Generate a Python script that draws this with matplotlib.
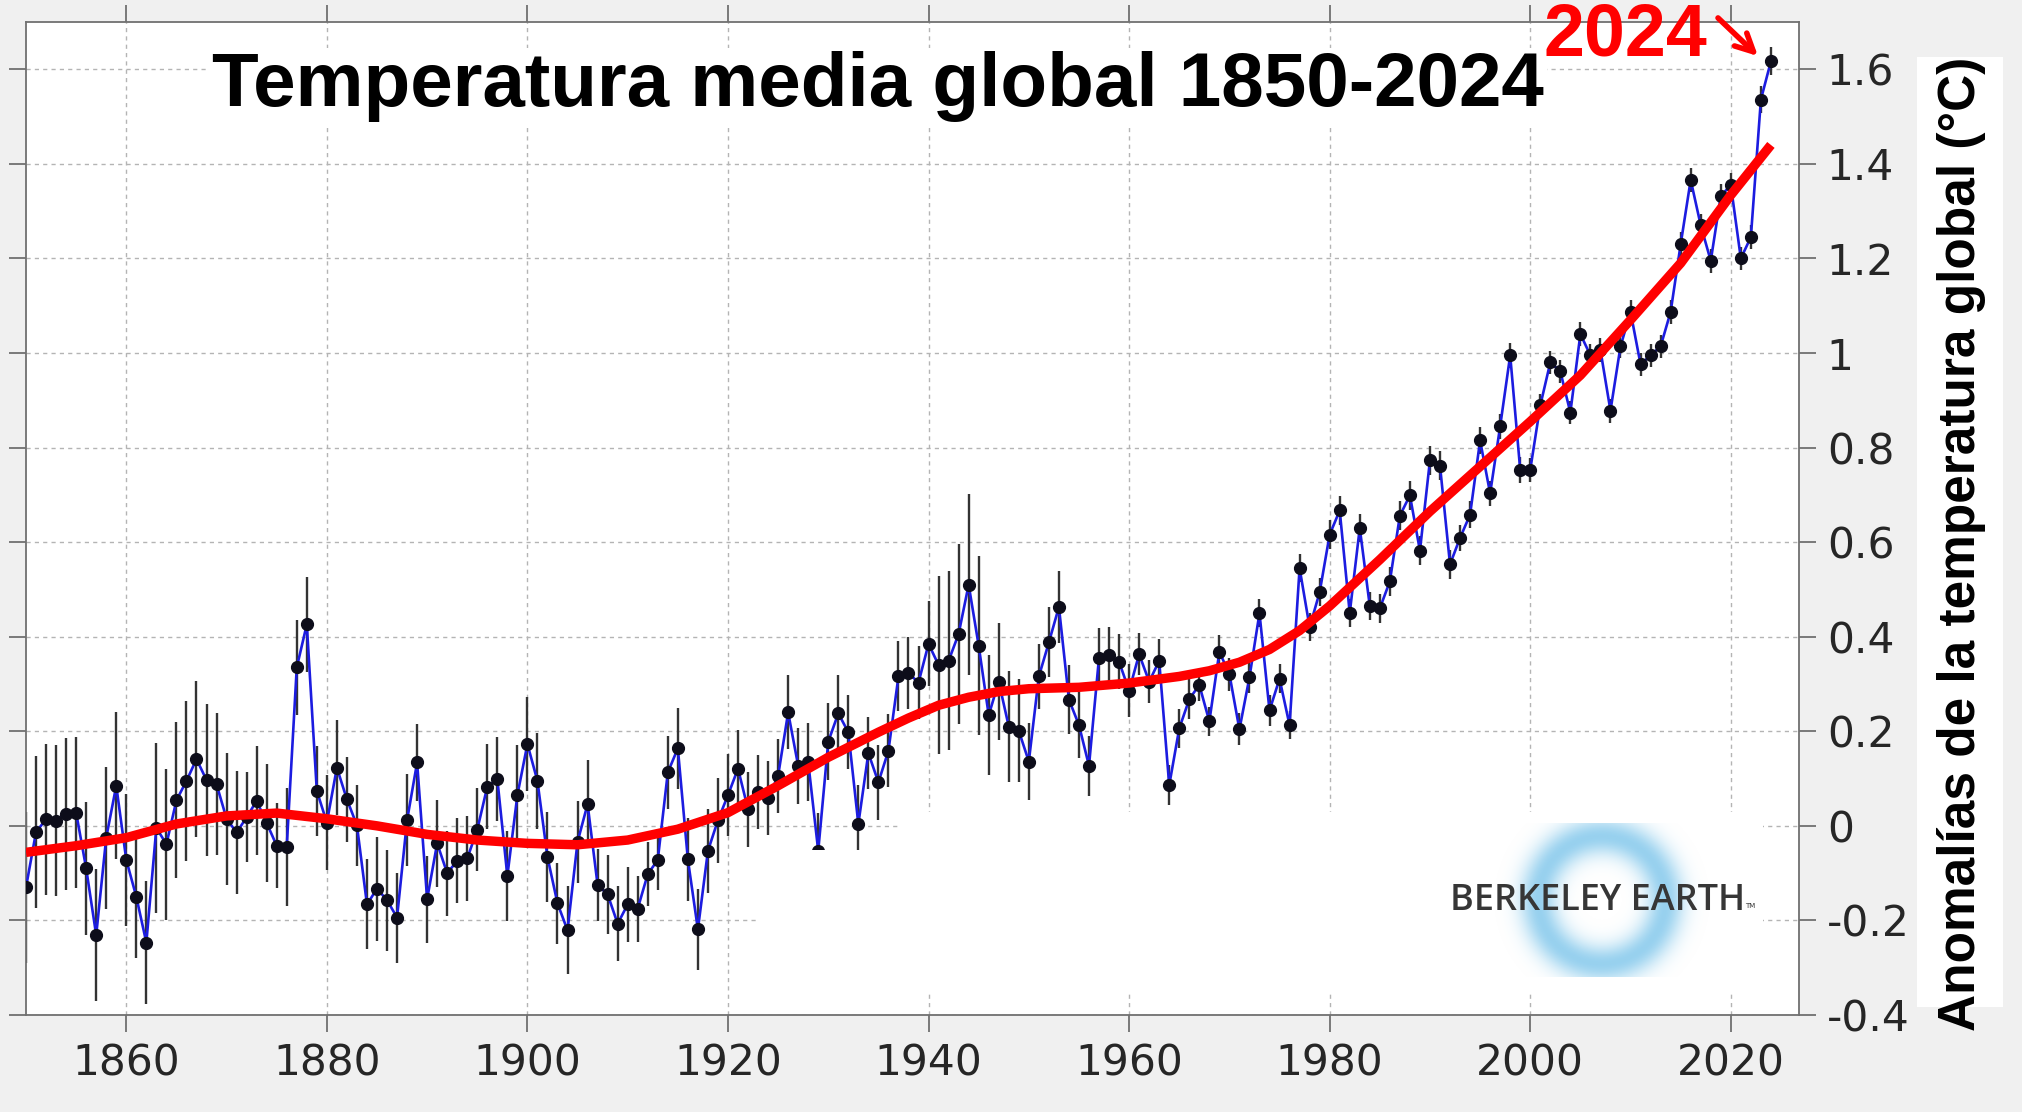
import numpy as np
import matplotlib.pyplot as plt
from matplotlib.patches import Rectangle, Polygon
from matplotlib.ticker import FuncFormatter

plt.rcParams['axes.unicode_minus'] = False

# annual global mean anomalies (°C), 1850-2024
years = np.arange(1850, 2025)
anomaly = [
    -0.130, -0.013, 0.014, 0.011, 0.025, 0.028, -0.090, -0.231, -0.025, 0.085,
    -0.072, -0.150, -0.247, -0.004, -0.039, 0.054, 0.095, 0.141, 0.097, 0.088,
    0.015, -0.014, 0.018, 0.053, 0.006, -0.042, -0.044, 0.335, 0.426, 0.074,
    0.007, 0.123, 0.056, 0.001, -0.166, -0.133, -0.157, -0.194, 0.012, 0.134,
    -0.155, -0.037, -0.100, -0.074, -0.069, -0.008, 0.083, 0.099, -0.106, 0.065,
    0.173, 0.095, -0.066, -0.164, -0.221, -0.034, 0.046, -0.125, -0.145, -0.207,
    -0.166, -0.175, -0.102, -0.072, 0.113, 0.164, -0.071, -0.219, -0.053, 0.012,
    0.065, 0.121, 0.035, 0.072, 0.059, 0.106, 0.240, 0.127, 0.135, -0.053,
    0.178, 0.238, 0.198, 0.004, 0.154, 0.092, 0.159, 0.316, 0.323, 0.303,
    0.385, 0.340, 0.349, 0.406, 0.510, 0.381, 0.234, 0.305, 0.210, 0.201,
    0.136, 0.316, 0.388, 0.463, 0.267, 0.213, 0.127, 0.356, 0.361, 0.347,
    0.286, 0.363, 0.305, 0.349, 0.086, 0.206, 0.268, 0.298, 0.221, 0.368,
    0.321, 0.204, 0.314, 0.450, 0.244, 0.311, 0.213, 0.545, 0.420, 0.494,
    0.616, 0.667, 0.450, 0.630, 0.465, 0.460, 0.517, 0.656, 0.699, 0.582,
    0.773, 0.762, 0.553, 0.609, 0.658, 0.815, 0.703, 0.845, 0.995, 0.753,
    0.753, 0.889, 0.980, 0.961, 0.874, 1.040, 0.995, 1.006, 0.878, 1.014,
    1.087, 0.976, 0.995, 1.014, 1.087, 1.230, 1.366, 1.270, 1.195, 1.332,
    1.355, 1.200, 1.245, 1.536, 1.617,
]
# 95% uncertainty half-widths
uncert = [
    0.160, 0.160, 0.160, 0.160, 0.160, 0.160, 0.140, 0.140, 0.150, 0.155,
    0.140, 0.130, 0.130, 0.180, 0.160, 0.165, 0.170, 0.165, 0.160, 0.150,
    0.140, 0.130, 0.095, 0.115, 0.125, 0.090, 0.125, 0.100, 0.100, 0.095,
    0.100, 0.100, 0.090, 0.085, 0.095, 0.110, 0.107, 0.095, 0.097, 0.082,
    0.092, 0.092, 0.090, 0.090, 0.090, 0.088, 0.090, 0.089, 0.095, 0.106,
    0.100, 0.102, 0.095, 0.085, 0.093, 0.086, 0.093, 0.076, 0.083, 0.079,
    0.079, 0.070, 0.067, 0.063, 0.078, 0.085, 0.088, 0.085, 0.088, 0.090,
    0.086, 0.081, 0.079, 0.078, 0.079, 0.078, 0.078, 0.081, 0.083, 0.081,
    0.081, 0.080, 0.078, 0.083, 0.076, 0.079, 0.077, 0.074, 0.076, 0.078,
    0.090, 0.188, 0.189, 0.190, 0.192, 0.189, 0.127, 0.123, 0.117, 0.109,
    0.081, 0.069, 0.074, 0.076, 0.073, 0.070, 0.064, 0.063, 0.060, 0.058,
    0.056, 0.045, 0.046, 0.047, 0.042, 0.042, 0.042, 0.034, 0.030, 0.035,
    0.035, 0.034, 0.033, 0.030, 0.032, 0.031, 0.030, 0.030, 0.030, 0.030,
    0.030, 0.030, 0.030, 0.030, 0.030, 0.030, 0.030, 0.030, 0.030, 0.030,
    0.030, 0.030, 0.030, 0.028, 0.028, 0.028, 0.027, 0.027, 0.027, 0.027,
    0.025, 0.025, 0.025, 0.025, 0.025, 0.025, 0.025, 0.025, 0.025, 0.025,
    0.025, 0.025, 0.025, 0.025, 0.025, 0.025, 0.025, 0.025, 0.025, 0.025,
    0.025, 0.025, 0.025, 0.028, 0.030,
]
# smoothed trend
smooth_years = [1850, 1855, 1860, 1865, 1870, 1875, 1880, 1885, 1890, 1895,
                1900, 1905, 1910, 1915, 1920, 1925, 1930, 1935, 1938, 1941,
                1944, 1947, 1950, 1955, 1960, 1965, 1968, 1971, 1974, 1977,
                1980, 1985, 1990, 1995, 2000, 2005, 2010, 2015, 2020, 2024]
smooth_vals = [-0.056, -0.042, -0.025, 0.004, 0.021, 0.027, 0.015, 0.000, -0.018, -0.030,
               -0.037, -0.040, -0.030, -0.007, 0.028, 0.085, 0.145, 0.198, 0.228, 0.255,
               0.272, 0.284, 0.290, 0.293, 0.302, 0.316, 0.328, 0.346, 0.373, 0.413,
               0.465, 0.563, 0.665, 0.760, 0.855, 0.953, 1.070, 1.190, 1.334, 1.440]

xticks = [1860, 1880, 1900, 1920, 1940, 1960, 1980, 2000, 2020]
yticks = [-0.4, -0.2, 0, 0.2, 0.4, 0.6, 0.8, 1.0, 1.2, 1.4, 1.6]

W, H = 2022, 1112
fig = plt.figure(figsize=(W / 100, H / 100), dpi=100, facecolor='#f0f0f0')
ax = fig.add_axes([26 / W, 1 - 1015 / H, (1799 - 26) / W, (1015 - 22) / H])
ax.set_facecolor('white')

anomaly = np.array(anomaly)
uncert = np.array(uncert)
ax.vlines(years, anomaly - uncert, anomaly + uncert, color='#333333', lw=1.7, zorder=2)
ax.plot(years, anomaly, color='#1c1ce0', lw=1.9, zorder=3)
ax.plot(years, anomaly, 'o', ms=8.5, color='#0d0d1a', zorder=4)
ax.plot(smooth_years, smooth_vals, color='#ff0000', lw=6.8,
        solid_joinstyle='round', solid_capstyle='butt', zorder=5)

ax.set_xlim(1850, 2026.8)
ax.set_ylim(-0.4, 1.7)
ax.set_xticks(xticks)
ax.set_yticks(yticks)
ax.yaxis.set_major_formatter(FuncFormatter(lambda v, p: '%g' % round(v, 1)))
ax.grid(True, color='#b4b4b4', linestyle=(0, (3, 3)), linewidth=1)
ax.set_axisbelow(True)
ax.tick_params(direction='out', length=12, width=1.3, color='#707070',
               labelsize=30.5, labelcolor='#262626', pad=8,
               top=True, right=True, labelleft=False, labelright=True)
for s in ax.spines.values():
    s.set_color('#707070')
    s.set_linewidth(1.3)

# title inside the plot
fig.text(878 / W, 1 - 106 / H, 'Temperatura media global 1850-2024',
         fontsize=55, fontweight='bold', family='Liberation Sans',
         ha='center', va='baseline',
         bbox=dict(facecolor='white', edgecolor='none', pad=2))

# y label on a white strip at the right
fig.patches.append(Rectangle((1917 / W, 1 - 1007 / H), 86 / W, 950 / H,
                             transform=fig.transFigure, facecolor='white',
                             edgecolor='none', zorder=1))
fig.text(1961 / W, 1 - 544 / H, 'Anomalías de la temperatura global (°C)',
         rotation=90, fontsize=37, fontweight='bold', family='Liberation Sans',
         ha='center', va='center', zorder=2)

# highlight of the last year
fig.text(1543 / W, 1 - 55 / H, '2024', color='#ff0000', fontsize=53,
         fontweight='bold', family='Liberation Sans', va='baseline')
ax.annotate('', xy=(1760 / W, 1 - 58 / H), xycoords='figure fraction',
            xytext=(1716 / W, 1 - 16 / H), textcoords='figure fraction',
            arrowprops=dict(arrowstyle='->', color='#ff0000', lw=4,
                            mutation_scale=32))

# Berkeley Earth logo on a white patch (pixel units of the figure)
lax = fig.add_axes([758 / W, 1 - 993 / H, (1763 - 758) / W, (993 - 812) / H])
lax.set_xlim(758, 1763)
lax.set_ylim(993, 812)
lax.axis('off')
lax.add_patch(Polygon([(758, 850), (900, 850), (900, 812), (1763, 812),
                       (1763, 993), (758, 993)], closed=True,
                      facecolor='white', edgecolor='none', zorder=0))
cx, cy = 1602, 900
gx, gy = np.meshgrid(np.arange(-110, 111), np.arange(-77, 78))
r = np.hypot(gx, gy)
ring = np.zeros(r.shape + (4,))
ring[..., 0], ring[..., 1], ring[..., 2] = 0.55, 0.80, 0.93
ring[..., 3] = 0.9 * np.exp(-((r - 64) / 19.0) ** 2)
lax.imshow(ring, extent=(cx - 110, cx + 110, cy + 77, cy - 77),
           interpolation='bilinear', aspect='auto', zorder=1)
lax.set_xlim(758, 1763)
lax.set_ylim(993, 812)
lax.text(1598, 901, 'BERKELEY EARTH', fontsize=26, color='#363636',
         family='Open Sans', fontweight='semibold', ha='center', va='center', zorder=2)
lax.text(1750, 906, 'TM', fontsize=5, color='#363636', ha='center', va='center', zorder=2)

fig.savefig('out.png', dpi=100, facecolor=fig.get_facecolor())
